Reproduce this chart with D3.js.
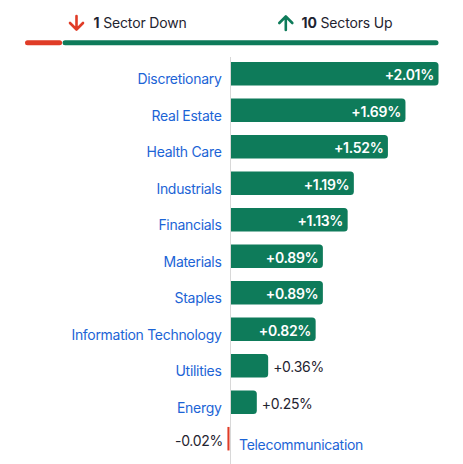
<!DOCTYPE html>
<html><head><meta charset="utf-8">
<script src="https://cdn.jsdelivr.net/npm/d3@7"></script>
<style>body{margin:0;background:#fff}svg text{font-family:Inter,"Noto Sans",sans-serif}</style>
</head><body>
<svg id="chart" width="463" height="464"></svg>
<script>
const sectors = ["Discretionary","Real Estate","Health Care","Industrials","Financials","Materials","Staples","Information Technology","Utilities","Energy","Telecommunication"];
const changes = [2.01,1.69,1.52,1.19,1.13,0.89,0.89,0.82,0.36,0.25,-0.02];
const downCount = 1;
const upCount = 10;

const GREEN = "#0e7b5a", RED = "#e03c27", BLUE = "#1c64d6", DARK = "#1f2430";
const svg = d3.select("#chart");
const fmt = v => (v >= 0 ? "+" : "-") + Math.abs(v).toFixed(2) + "%";

// header
const hx = d3.scaleLinear().domain([0, downCount + upCount]).range([25, 438.5]);
const hy = 42.8;
svg.append("line").attr("x1", hx(0) + 2.5).attr("x2", hx(downCount) - 3).attr("y1", hy).attr("y2", hy)
  .attr("stroke", RED).attr("stroke-width", 5).attr("stroke-linecap", "round");
svg.append("line").attr("x1", hx(downCount) + 2.5).attr("x2", hx(downCount + upCount) - 2.5).attr("y1", hy).attr("y2", hy)
  .attr("stroke", GREEN).attr("stroke-width", 5).attr("stroke-linecap", "round");

function arrow(cx, up, color) {
  const t = 16, b = 30;
  const p = up
    ? `M${cx},${b} L${cx},${t+1} M${cx-6.5},${t+7} L${cx},${t+0.5} L${cx+6.5},${t+7}`
    : `M${cx},${t} L${cx},${b-1} M${cx-6.5},${b-7} L${cx},${b-0.5} L${cx+6.5},${b-7}`;
  svg.append("path").attr("d", p).attr("fill", "none").attr("stroke", color)
    .attr("stroke-width", 2.6).attr("stroke-linecap", "round").attr("stroke-linejoin", "round");
}
arrow(76.5, false, RED);
arrow(285.8, true, GREEN);
const t1 = svg.append("text").attr("x", 93.5).attr("y", 27.5).attr("font-size", 14).attr("fill", DARK).attr("letter-spacing", -0.15);
t1.append("tspan").attr("font-weight", 700).text(downCount);
t1.append("tspan").text(" Sector Down");
const t2 = svg.append("text").attr("x", 301.5).attr("y", 27.5).attr("font-size", 14).attr("fill", DARK).attr("letter-spacing", -0.15);
t2.append("tspan").attr("font-weight", 700).text(upCount);
t2.append("tspan").text(" Sectors Up");

// bars
const step = 36.5, c0 = 73.7;
const y = d3.scaleBand().domain(sectors)
  .range([c0 - step / 2, c0 - step / 2 + step * sectors.length])
  .paddingInner(0.356).paddingOuter(0.178);
const x = d3.scaleLinear().domain([0, 2.01]).range([231, 438.5]);
const x0 = x(0);

svg.append("line").attr("x1", x0 - 0.5).attr("x2", x0 - 0.5).attr("y1", 57).attr("y2", 464)
  .attr("stroke", "#d8d8d8").attr("stroke-width", 1);

const data = sectors.map((s, i) => ({ s, v: changes[i] }));
const r = 3.5;
const g = svg.append("g");
const LS = -0.3;
data.forEach(d => {
  const top = y(d.s), h = y.bandwidth(), cy = top + h / 2;
  if (d.v >= 0) {
    const xe = x(d.v), w = xe - x0;
    g.append("path").attr("fill", GREEN).attr("d",
      `M${x0},${top} H${xe - r} Q${xe},${top} ${xe},${top + r} V${top + h - r} Q${xe},${top + h} ${xe - r},${top + h} H${x0} Z`);
    const inside = w > 60;
    svg.append("text").attr("x", inside ? xe - 4.5 : xe + 5).attr("y", cy + 6.3)
      .attr("text-anchor", inside ? "end" : "start").attr("font-size", 14).attr("letter-spacing", LS)
      .attr("font-weight", inside ? 600 : 400).attr("fill", inside ? "#fff" : DARK).text(fmt(d.v));
    svg.append("text").attr("x", 221.5).attr("y", cy + 10.3).attr("text-anchor", "end").attr("letter-spacing", LS)
      .attr("font-size", 14).attr("fill", BLUE).text(d.s);
  } else {
    const xe = x(d.v) - 1.5, xr = x0 - 1.5;
    g.append("rect").attr("x", xe).attr("y", top).attr("width", xr - xe).attr("height", h).attr("fill", RED);
    svg.append("text").attr("x", xe - 4.5).attr("y", cy + 7).attr("text-anchor", "end").attr("letter-spacing", LS)
      .attr("font-size", 14).attr("fill", DARK).text(fmt(d.v));
    svg.append("text").attr("x", x0 + 8).attr("y", cy + 11).attr("text-anchor", "start").attr("letter-spacing", LS)
      .attr("font-size", 14).attr("fill", BLUE).text(d.s);
  }
});
</script>
</body></html>
